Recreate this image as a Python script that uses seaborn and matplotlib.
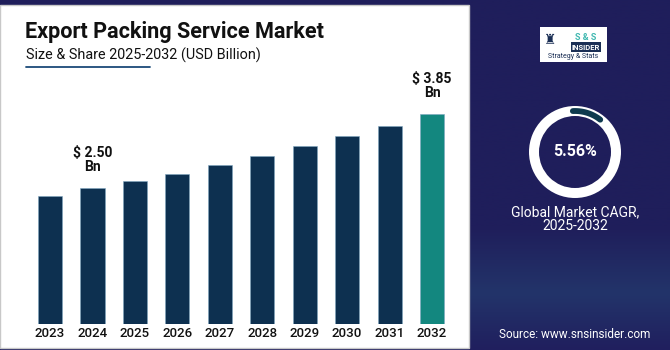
import numpy as np
import pandas as pd
import matplotlib
matplotlib.use("Agg")
import matplotlib.pyplot as plt
import seaborn as sns
from matplotlib.patches import Rectangle, Wedge
from matplotlib.colors import LinearSegmentedColormap

# data
years = ["2023", "2024", "2025", "2026", "2027", "2028", "2029", "2030", "2031", "2032"]
market_size = [2.35, 2.50, 2.62, 2.76, 2.92, 3.09, 3.26, 3.45, 3.64, 3.85]
bar_labels = {"2024": "$ 2.50\nBn", "2032": "$ 3.85\nBn"}
cagr_text = "5.56%"
cagr_caption = "Global Market CAGR,\n2025-2032"

sns.set_theme(style="white")
plt.rcParams['font.family'] = ['Roboto', 'DejaVu Sans']

W, H = 670, 350
NAVY = "#1f1e5b"
BAR = "#0d3050"
TEAL = "#13877f"


def fig_box(x, y, w, h):
    # pixel box (top-left origin) -> figure fraction
    return [x / W, 1 - (y + h) / H, w / W, h / H]


fig = plt.figure(figsize=(W / 100, H / 100), dpi=100)

# background gradient
bg = fig.add_axes([0, 0, 1, 1], zorder=-10)
cmap = LinearSegmentedColormap.from_list(
    "bg", [(0, NAVY), (0.65, NAVY), (0.84, "#23346a"), (1.0, "#201f5e")])
grad = np.linspace(0, 1, 256).reshape(-1, 1)
bg.imshow(grad, aspect="auto", cmap=cmap, extent=[0, 1, 0, 1], origin="upper")
bg.axis("off")

# white panel
fig.patches.append(Rectangle((0, 1 - 348 / H), 469 / W, 343 / H, transform=fig.transFigure,
                             facecolor="white", edgecolor="#c8c8c8", linewidth=1, zorder=-5))

# title
fig.text(25 / W, 1 - 38 / H, "Export Packing Service Market", fontsize=15.6,
         fontweight="bold", color="#111111", va="baseline")
fig.text(26 / W, 1 - 60 / H, "Size & Share 2025-2032 (USD Billion)", fontsize=10.4,
         color="#111111", va="baseline")
fig.add_artist(plt.Line2D([26 / W, 150 / W], [1 - 67 / H, 1 - 67 / H], color="#1b4a78",
                          linewidth=1.3, transform=fig.transFigure))

# bars
df = pd.DataFrame({"year": years, "size": market_size})
palette = {y: (TEAL if y == "2032" else BAR) for y in years}
ax = fig.add_axes(fig_box(28.8, 60, 424.5, 264))
sns.barplot(data=df, x="year", y="size", hue="year", palette=palette, legend=False,
            width=0.57, edgecolor="#7fa6c0", linewidth=0.4, saturation=1, ax=ax)
ax.set_xlim(-0.5, len(years) - 0.5)
ax.set_ylim(0, 4.844)
ax.set_xlabel("")
ax.set_ylabel("")
ax.set_yticks([])
ax.tick_params(axis="x", length=0, pad=2, labelsize=9.5, labelcolor="#111111")
for lab in ax.get_xticklabels():
    lab.set_fontweight("medium")
sns.despine(ax=ax, left=True, bottom=True)
ax.set_facecolor("none")
for i, y in enumerate(years):
    if y in bar_labels:
        ax.annotate(bar_labels[y], (i, market_size[i]), xytext=(0, 10),
                    textcoords="offset points", ha="center", va="bottom",
                    fontsize=10, fontweight="bold", color="#111111", linespacing=1.0)

# donut
dax = fig.add_axes(fig_box(525, 102, 100, 100))
dax.set_xlim(-50, 50)
dax.set_ylim(-50, 50)
dax.set_aspect("equal")
dax.axis("off")
dax.add_patch(Wedge((0, 0), 46, 0, 360, width=10, facecolor="white", edgecolor="none"))
dax.plot(41 * np.cos(np.radians(np.linspace(52, 93, 40))),
         41 * np.sin(np.radians(np.linspace(52, 93, 40))),
         color="#0e3a4e", linewidth=4.2, solid_capstyle="round")
dax.text(0, 0, cagr_text, ha="center", va="center", fontsize=11.5, fontweight="bold", color="white")
fig.text(575 / W, 1 - 219 / H, cagr_caption, ha="center", va="center", fontsize=10,
         color="white", linespacing=0.95)

# logo
fig.patches.append(Rectangle((540 / W, 1 - 62 / H), 67 / W, 35 / H, transform=fig.transFigure,
                             facecolor="white", edgecolor="none"))
fig.text(586 / W, 1 - 37 / H, "S & S", ha="center", va="center", fontsize=6.5,
         fontweight="bold", color="#3fb8b0")
fig.text(586 / W, 1 - 47 / H, "INSIDER", ha="center", va="center", fontsize=5.5,
         fontweight="bold", color="white",
         bbox=dict(facecolor="#1b2f55", edgecolor="none", pad=0.8))
fig.text(573 / W, 1 - 57 / H, "Strategy & Stats", ha="center", va="center", fontsize=5,
         color="#1b2f55")
fig.text(550 / W, 1 - 40 / H, "♜", ha="center", va="center", fontsize=10,
         color="#1b2f55", family=["DejaVu Sans"])

# source
fig.text(575 / W, 1 - 334 / H, "Source: www.snsinsider.com", ha="center", va="center",
         fontsize=8.5, color="white")

fig.savefig("out.png", dpi=100)
